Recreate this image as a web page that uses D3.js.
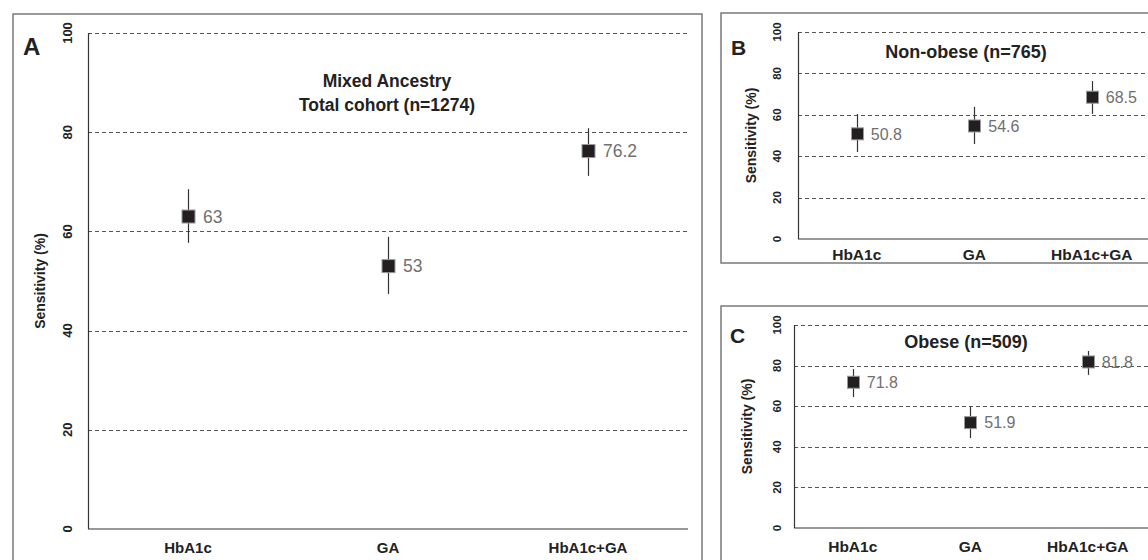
<!DOCTYPE html>
<html>
<head>
<meta charset="utf-8">
<script src="https://cdn.jsdelivr.net/npm/d3@7"></script>
<style>
  html, body { margin: 0; padding: 0; background: #fff; }
  svg { display: block; font-family: "Liberation Sans", Arial, Helvetica, sans-serif; }
</style>
</head>
<body>
<svg id="chart" width="1148" height="560"></svg>
<script>
// ---------------- DATA ----------------
const categories = ["HbA1c", "GA", "HbA1c+GA"];
const yTicks = [0, 20, 40, 60, 80, 100];

// Panel A: Mixed Ancestry, total cohort (n=1274)
const totalValues = [63, 53, 76.2];
const totalLower  = [57.7, 47.4, 71.2];
const totalUpper  = [68.5, 58.9, 80.8];

// Panel B: Non-obese (n=765)
const nonObeseValues = [50.8, 54.6, 68.5];
const nonObeseLower  = [42.0, 45.9, 60.4];
const nonObeseUpper  = [60.4, 63.8, 76.3];

// Panel C: Obese (n=509)
const obeseValues = [71.8, 51.9, 81.8];
const obeseLower  = [64.5, 44.3, 75.4];
const obeseUpper  = [78.3, 59.6, 87.2];

const panelLetters = ["A", "B", "C"];
const panelTitles = [["Mixed Ancestry", "Total cohort (n=1274)"], ["Non-obese (n=765)"], ["Obese (n=509)"]];
const yAxisTitle = "Sensitivity (%)";

// ---------------- DRAW ----------------
const svg = d3.select("#chart");

function drawPanel(cfg) {
  const g = svg.append("g");
  // outer box
  g.append("rect")
    .attr("x", cfg.box[0]).attr("y", cfg.box[1])
    .attr("width", cfg.box[2]).attr("height", cfg.box[3])
    .attr("fill", "none").attr("stroke", "#7a7a7a").attr("stroke-width", 1.5);

  const x = d3.scalePoint().domain(categories).range([cfg.left, cfg.right]).padding(0.5);
  const y = d3.scaleLinear().domain([0, 100]).range([cfg.bottom, cfg.top]);

  // dashed gridlines
  g.selectAll(".grid").data(yTicks.filter(t => t > 0)).join("line")
    .attr("x1", cfg.left).attr("x2", cfg.gridRight)
    .attr("y1", d => Math.round(y(d)) + 0.5).attr("y2", d => Math.round(y(d)) + 0.5)
    .attr("stroke", "#555").attr("stroke-width", 1).attr("stroke-dasharray", "4,3");

  // axis lines
  g.append("line").attr("x1", cfg.left + 0.5).attr("x2", cfg.left + 0.5)
    .attr("y1", y(100)).attr("y2", y(0)).attr("stroke", "#333").attr("stroke-width", 1.2);
  g.append("line").attr("x1", cfg.left).attr("x2", cfg.gridRight)
    .attr("y1", y(0)).attr("y2", y(0)).attr("stroke", "#333").attr("stroke-width", 1.2);

  // y tick labels (rotated)
  g.selectAll(".ytick").data(yTicks).join("text")
    .attr("transform", d => `translate(${cfg.yTickX},${y(d)}) rotate(-90)`)
    .attr("dy", "0.35em").attr("text-anchor", "middle")
    .attr("font-size", cfg.yTickSize).attr("font-weight", "bold").attr("fill", "#222")
    .text(d => d);

  // y axis title
  g.append("text")
    .attr("transform", `translate(${cfg.yTitleX},${(y(0) + y(100)) / 2}) rotate(-90)`)
    .attr("dy", "0.35em").attr("text-anchor", "middle")
    .attr("font-size", cfg.yTitleSize).attr("font-weight", "bold").attr("fill", "#222")
    .text(yAxisTitle);

  // x labels
  g.selectAll(".xlab").data(categories).join("text")
    .attr("x", d => x(d)).attr("y", cfg.xLabelY).attr("text-anchor", "middle")
    .attr("font-size", cfg.xLabelSize).attr("font-weight", "bold").attr("fill", "#222")
    .text(d => d);

  // panel letter
  g.append("text").attr("x", cfg.letterPos[0]).attr("y", cfg.letterPos[1])
    .attr("font-size", cfg.letterSize).attr("font-weight", "bold").attr("fill", "#222")
    .text(cfg.letter);

  // title
  cfg.title.forEach((line, i) => {
    g.append("text").attr("x", cfg.titlePos[0]).attr("y", cfg.titlePos[1] + i * cfg.titleLH)
      .attr("text-anchor", "middle").attr("font-size", cfg.titleSize)
      .attr("font-weight", "bold").attr("fill", "#222").text(line);
  });

  const rows = categories.map((c, i) => ({ c, v: cfg.values[i], lo: cfg.lower[i], hi: cfg.upper[i] }));

  // error bars
  g.selectAll(".err").data(rows).join("line")
    .attr("x1", d => Math.round(x(d.c)) + 0.5).attr("x2", d => Math.round(x(d.c)) + 0.5)
    .attr("y1", d => y(d.hi)).attr("y2", d => y(d.lo))
    .attr("stroke", "#333").attr("stroke-width", 1.2);

  // squares
  const s = cfg.sq;
  g.selectAll(".pt").data(rows).join("rect")
    .attr("x", d => Math.round(x(d.c)) + 0.5 - s / 2).attr("y", d => y(d.v) - s / 2)
    .attr("width", s).attr("height", s)
    .attr("fill", "#231f20").attr("stroke", "#9a9a9a").attr("stroke-width", 1);

  // value labels
  g.selectAll(".val").data(rows).join("text")
    .attr("x", d => x(d.c) + cfg.labelDx).attr("y", d => y(d.v)).attr("dy", "0.36em")
    .attr("font-size", cfg.labelSize).attr("fill", "#707070")
    .text(d => d.v);
}

drawPanel({
  box: [13, 14, 689, 560], left: 88, right: 688, gridRight: 688, top: 33, bottom: 529,
  yTickX: 67, yTickSize: 13, yTitleX: 40, yTitleSize: 14, xLabelY: 553, xLabelSize: 15,
  letter: panelLetters[0], letterPos: [23, 55], letterSize: 24,
  title: panelTitles[0], titlePos: [387, 87], titleLH: 24, titleSize: 17.5,
  values: totalValues, lower: totalLower, upper: totalUpper,
  sq: 13, labelDx: 15, labelSize: 17.5
});

drawPanel({
  box: [721, 13, 460, 250], left: 798, right: 1150.5, gridRight: 1150, top: 32, bottom: 239,
  yTickX: 777, yTickSize: 11.5, yTitleX: 751, yTitleSize: 14, xLabelY: 260, xLabelSize: 15.5,
  letter: panelLetters[1], letterPos: [731, 55], letterSize: 21,
  title: panelTitles[1], titlePos: [966, 58], titleLH: 22, titleSize: 18,
  values: nonObeseValues, lower: nonObeseLower, upper: nonObeseUpper,
  sq: 12, labelDx: 14, labelSize: 16
});

drawPanel({
  box: [721, 306, 460, 280], left: 794, right: 1146.5, gridRight: 1150, top: 325, bottom: 528,
  yTickX: 777, yTickSize: 11.5, yTitleX: 747, yTitleSize: 14, xLabelY: 552, xLabelSize: 15.5,
  letter: panelLetters[2], letterPos: [730, 343], letterSize: 21,
  title: panelTitles[2], titlePos: [966, 348], titleLH: 22, titleSize: 18,
  values: obeseValues, lower: obeseLower, upper: obeseUpper,
  sq: 12, labelDx: 14, labelSize: 16
});
</script>
</body>
</html>
